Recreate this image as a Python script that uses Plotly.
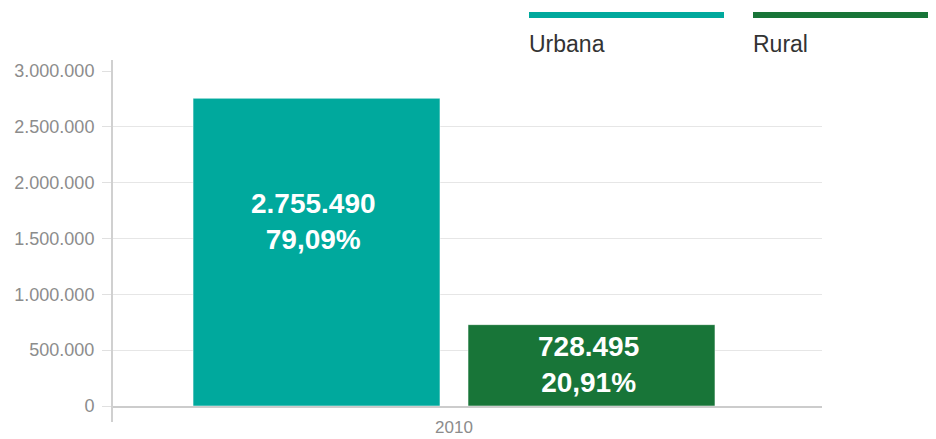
import plotly.graph_objects as go

categories = ["2010"]
series_names = ["Urbana", "Rural"]
urbana_values = [2755490]
rural_values = [728495]
series_colors = ["#00a99d", "#187538"]
y_tick_values = [0, 500000, 1000000, 1500000, 2000000, 2500000, 3000000]
y_tick_labels = ["0", "500.000", "1.000.000", "1.500.000", "2.000.000", "2.500.000", "3.000.000"]

def fmt_int(v):
    return f"{v:,}".replace(",", ".")

def fmt_pct(p):
    return f"{p:.2f}".replace(".", ",") + "%"

total = urbana_values[0] + rural_values[0]
all_values = [urbana_values, rural_values]

fig = go.Figure()
for name, vals, col in zip(series_names, all_values, series_colors):
    fig.add_trace(go.Bar(
        x=categories, y=vals, name=name,
        marker=dict(color=col, line=dict(color="rgba(255,255,255,0.5)", width=1)),
        showlegend=False, hoverinfo="skip",
    ))

# data labels inside bars (x given as category index)
label_shift = [31, 1]
for i, (vals, sh) in enumerate(zip(all_values, label_shift)):
    v = vals[0]
    fig.add_annotation(
        x=0, y=v / 2, xref="x", yref="y",
        xshift=(-1 if i == 0 else 1) * 137.5 - 3,
        yshift=sh,
        text=f"<b>{fmt_int(v)}<br>{fmt_pct(100 * v / total)}</b>",
        showarrow=False,
        font=dict(family="Liberation Sans, Arial, sans-serif", size=28, color="white"),
    )

# page has an 8px body margin; compensate
OFF = 8
L = 112 - OFF
T = 71 - OFF
W = 710
H = 335
def px(x):
    return (x - OFF - L) / W
def py(y):
    return 1.0 + (T - (y - OFF)) / H

legend_pos = [(529, 724), (753, 950)]
for (x0, x1), name, col in zip(legend_pos, series_names, series_colors):
    fig.add_shape(type="line", xref="paper", yref="paper",
                  x0=px(x0), x1=px(x1), y0=py(15), y1=py(15),
                  line=dict(color=col, width=6))
    fig.add_annotation(xref="paper", yref="paper", x=px(x0) - 2 / W, y=py(44),
                       text=name, showarrow=False, xanchor="left", yanchor="middle",
                       font=dict(family="Liberation Sans, Arial, sans-serif", size=23, color="#333333"))

# y-axis vertical line extending beyond plot
fig.add_shape(type="line", xref="paper", yref="paper", x0=0, x1=0,
              y0=py(422), y1=py(60),
              line=dict(color="#d0d0d0", width=2))

fig.update_layout(
    width=936, height=439,
    margin=dict(l=L, r=936 - L - W, t=T, b=439 - T - H, autoexpand=False),
    paper_bgcolor="white", plot_bgcolor="white",
    barmode="group", bargap=0.2254, bargroupgap=0.102,
    xaxis=dict(
        type="category", range=[-0.4817, 0.5183],
        showline=True, linecolor="#cccccc", linewidth=2,
        showgrid=False, ticks="",
        ticklabelstandoff=5,
        tickfont=dict(family="Liberation Sans, Arial, sans-serif", size=17, color="#8c8c8c"),
    ),
    yaxis=dict(
        range=[0, 3000000], tickvals=y_tick_values, ticktext=y_tick_labels,
        showgrid=True, gridcolor="#e6e6e6", gridwidth=1,
        zeroline=False, showline=False,
        ticks="outside", ticklen=9, tickcolor="#e0e0e0",
        ticklabelstandoff=4,
        tickfont=dict(family="Liberation Sans, Arial, sans-serif", size=18, color="#8c8c8c"),
    ),
)

fig.write_html("out.html")
